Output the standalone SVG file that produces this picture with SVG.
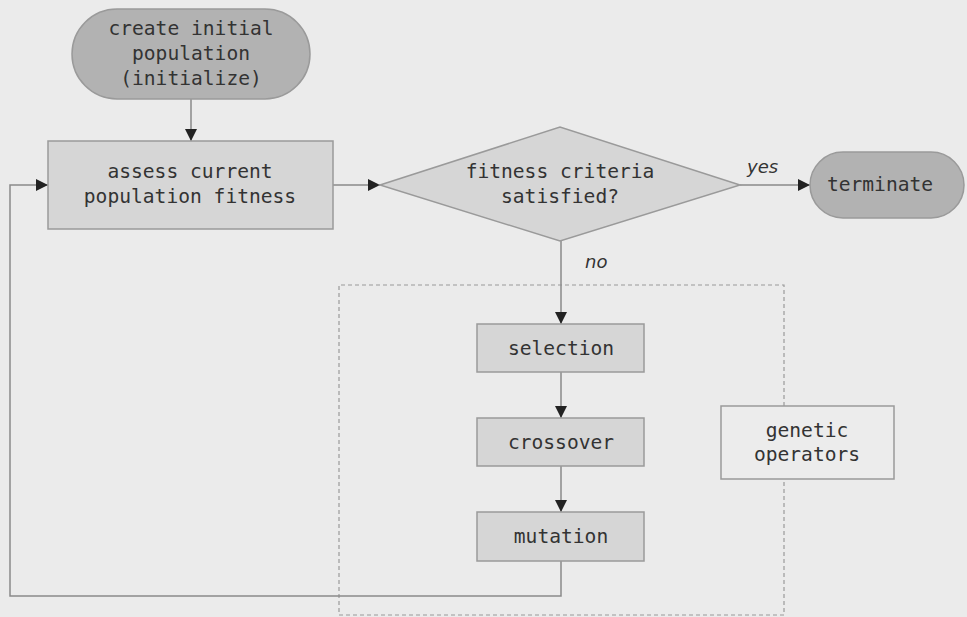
<svg xmlns="http://www.w3.org/2000/svg" width="967" height="617" viewBox="0 0 967 617">
<defs>
<style>
.t{font-family:"DejaVu Sans Mono","Liberation Mono",monospace;font-size:19.6px;fill:#333;text-anchor:middle}
.lbl{font-family:"DejaVu Sans","Liberation Sans",sans-serif;font-style:italic;font-size:18px;fill:#333}
.pill{fill:#b2b2b2;stroke:#9a9a9a;stroke-width:1.5}
.box{fill:#d6d6d6;stroke:#9a9a9a;stroke-width:1.5}
.conn{fill:none;stroke:#8a8a8a;stroke-width:1.5}
</style>
<marker id="ah" viewBox="0 0 10 10" refX="10" refY="5" markerWidth="12" markerHeight="12" markerUnits="userSpaceOnUse" orient="auto">
<path d="M0,0 L10,5 L0,10 z" fill="#222"/>
</marker>
</defs>
<rect width="967" height="617" fill="#ebebeb"/>
<g id="group-genetic">
<path d="M784,406 V285 H339 V615 H784 V479" fill="none" stroke="#9a9a9a" stroke-width="1.2" stroke-dasharray="4,3"/>
</g>
<g id="connectors">
<path class="conn" d="M191,99 V141" marker-end="url(#ah)"/>
<path class="conn" d="M333,185 H380" marker-end="url(#ah)"/>
<path class="conn" d="M740,185 H810" marker-end="url(#ah)"/>
<path class="conn" d="M561,241 V324" marker-end="url(#ah)"/>
<path class="conn" d="M561,372 V418" marker-end="url(#ah)"/>
<path class="conn" d="M561,466 V512" marker-end="url(#ah)"/>
<path class="conn" d="M561,561 V596 H10 V185 H48" marker-end="url(#ah)"/>
<text class="lbl" x="747" y="173">yes</text>
<text class="lbl" x="585" y="268">no</text>
</g>
<g id="start">
<rect class="pill" x="72" y="9" width="238" height="90" rx="45"/>
<text class="t" x="191" y="35">create initial</text>
<text class="t" x="191" y="60">population</text>
<text class="t" x="191" y="85">(initialize)</text>
</g>
<g id="assess">
<rect class="box" x="48" y="141" width="285" height="88"/>
<text class="t" x="190" y="178">assess current</text>
<text class="t" x="190" y="203">population fitness</text>
</g>
<g id="decision">
<polygon class="box" points="380,185 560,127 740,185 560,241"/>
<text class="t" x="560" y="178">fitness criteria</text>
<text class="t" x="560" y="203">satisfied?</text>
</g>
<g id="terminate">
<rect class="pill" x="810" y="152" width="154" height="66" rx="33"/>
<text class="t" x="880" y="191">terminate</text>
</g>
<g id="selection">
<rect class="box" x="477" y="324" width="167" height="48"/>
<text class="t" x="561" y="355">selection</text>
</g>
<g id="crossover">
<rect class="box" x="477" y="418" width="167" height="48"/>
<text class="t" x="561" y="449">crossover</text>
</g>
<g id="mutation">
<rect class="box" x="477" y="512" width="167" height="49"/>
<text class="t" x="561" y="543">mutation</text>
</g>
<g id="genetic-operators">
<rect x="721" y="406" width="173" height="73" fill="#ececec" stroke="#9a9a9a" stroke-width="1.5"/>
<text class="t" x="807" y="437">genetic</text>
<text class="t" x="807" y="461">operators</text>
</g>
</svg>
